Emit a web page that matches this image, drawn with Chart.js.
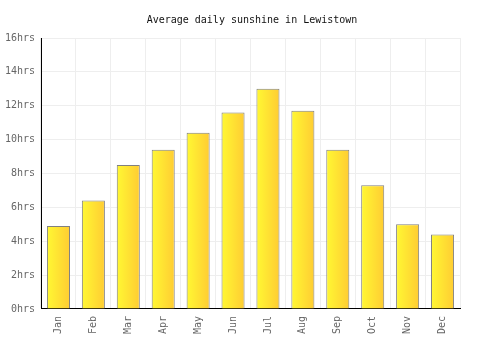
<!DOCTYPE html>
<html>
<head>
<meta charset="utf-8">
<script src="https://cdn.jsdelivr.net/npm/chart.js@4/dist/chart.umd.min.js"></script>
<style>
  html, body { margin: 0; padding: 0; background: #fff; }
  #wrap { width: 500px; height: 350px; }
</style>
</head>
<body>
<div id="wrap"><canvas id="sunChart" width="500" height="350"></canvas></div>
<script>
var months = ["Jan", "Feb", "Mar", "Apr", "May", "Jun", "Jul", "Aug", "Sep", "Oct", "Nov", "Dec"];
var sunHours = [4.9, 6.4, 8.5, 9.4, 10.4, 11.6, 13.0, 11.7, 9.4, 7.3, 5.0, 4.4];
var yMax = 16;
var yStep = 2;

var barPct = 0.66;

// horizontal gradient per bar, light yellow -> golden
function barGradient(context) {
  var chart = context.chart;
  var xs = chart.scales.x;
  if (!xs || !chart.chartArea) return '#ffe033';
  var cx = xs.getPixelForValue(context.dataIndex);
  var half = (xs.width / months.length) * barPct / 2;
  var g = chart.ctx.createLinearGradient(cx - half, 0, cx + half, 0);
  g.addColorStop(0, '#fff833');
  g.addColorStop(1, '#ffcc33');
  return g;
}

Chart.defaults.font.family = "'DejaVu Sans Mono', monospace";
Chart.defaults.font.size = 10;

var ctx = document.getElementById("sunChart").getContext('2d');
var sunChart = new Chart(ctx, {
  type: 'bar',
  data: {
    labels: months,
    datasets: [{
      label: "Sunshine",
      data: sunHours,
      backgroundColor: barGradient,
      borderColor: '#808080',
      borderWidth: 1,
      barPercentage: barPct,
      categoryPercentage: 1
    }]
  },
  options: {
    responsive: false,
    animation: false,
    layout: { padding: { left: 4, right: 0, top: 0, bottom: 9 } },
    plugins: {
      legend: { display: false },
      tooltip: { enabled: false },
      title: {
        display: true,
        text: "Average daily sunshine in Lewistown",
        color: '#111',
        font: { size: 10, weight: 'normal' },
        padding: { top: 14, bottom: 12 }
      }
    },
    scales: {
      x: {
        grid: { color: '#eeeeee', drawTicks: false, offset: true },
        border: { color: '#000', width: 1 },
        ticks: { color: '#666', maxRotation: 90, minRotation: 90, padding: 7 }
      },
      y: {
        min: 0,
        max: yMax,
        grid: { color: '#eeeeee', drawTicks: false },
        border: { color: '#000', width: 1 },
        afterFit: function (scale) { scale.width = 37; },
        ticks: {
          stepSize: yStep,
          color: '#666',
          padding: 6,
          callback: function (v) { return v + 'hrs'; }
        }
      },
      // empty right axis, only reserves the blank margin so the title stays centred
      yRight: {
        position: 'right',
        min: 0,
        max: yMax,
        grid: { drawOnChartArea: false, drawTicks: false },
        border: { display: false },
        ticks: { display: false },
        afterFit: function (scale) { scale.width = 40; }
      }
    }
  }
});
</script>
</body>
</html>
